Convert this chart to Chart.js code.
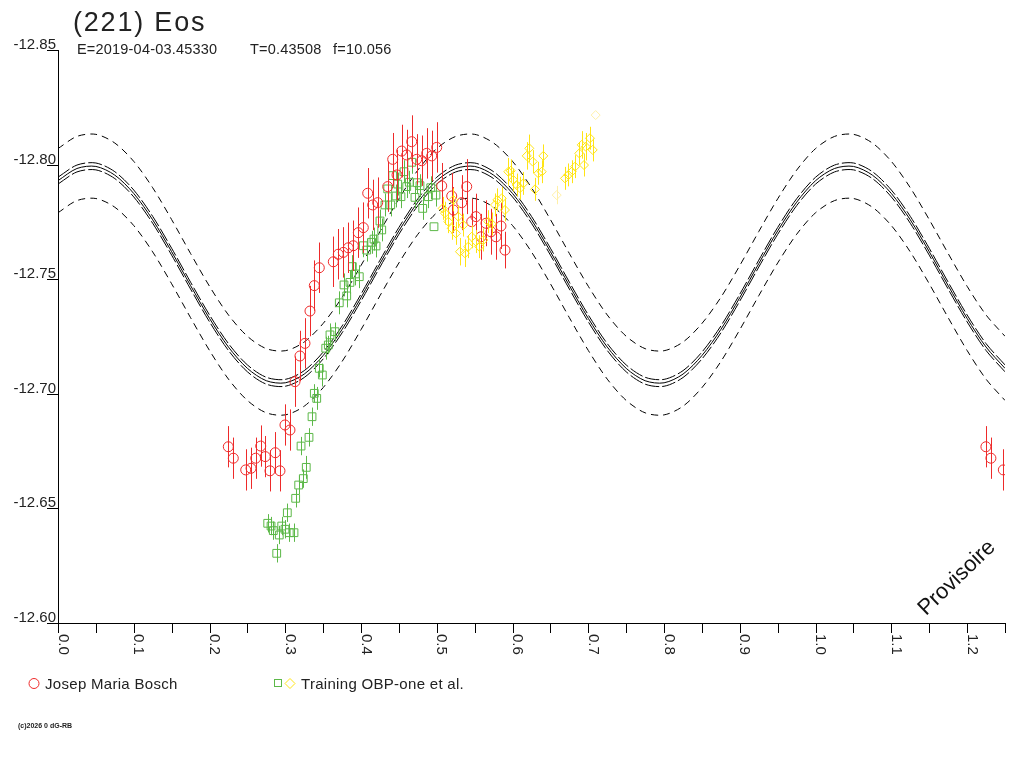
<!DOCTYPE html>
<html><head><meta charset="utf-8">
<script src="https://cdn.jsdelivr.net/npm/chart.js@4/dist/chart.umd.min.js"></script>
<style>html,body{margin:0;padding:0;background:#fff;overflow:hidden}canvas{display:block}</style>
</head><body>
<canvas id="c" width="1024" height="768"></canvas>
<script>
// ---- fitted light-curve ----
const fitPhase = [0,0.025,0.05,0.075,0.1,0.125,0.15,0.175,0.2,0.225,0.25,0.275,0.3,0.325,0.35,0.375,0.4,0.425,0.45,0.475,
0.5,0.525,0.55,0.575,0.6,0.625,0.65,0.675,0.7,0.725,0.75,0.775,0.8,0.825,0.85,0.875,0.9,0.925,0.95,0.975,
1.0,1.025,1.05,1.075,1.1,1.125,1.15,1.175,1.2,1.225,1.25];
const fitMag = [-12.7930,-12.7983,-12.7992,-12.7954,-12.7874,-12.7759,-12.7620,-12.7472,-12.7329,-12.7204,
-12.7111,-12.7057,-12.7048,-12.7086,-12.7167,-12.7281,-12.7420,-12.7568,-12.7711,-12.7836,
-12.7930,-12.7983,-12.7992,-12.7954,-12.7874,-12.7759,-12.7620,-12.7472,-12.7329,-12.7204,
-12.7111,-12.7057,-12.7048,-12.7086,-12.7167,-12.7281,-12.7420,-12.7568,-12.7711,-12.7836,
-12.7930,-12.7983,-12.7992,-12.7954,-12.7874,-12.7759,-12.7620,-12.7472,-12.7329,-12.7204,-12.7111];
const fitInnerUpper = [-12.7945,-12.7998,-12.8007,-12.7969,-12.7889,-12.7774,-12.7635,-12.7487,-12.7344,-12.7219,
-12.7126,-12.7072,-12.7063,-12.7101,-12.7182,-12.7296,-12.7435,-12.7583,-12.7726,-12.7851,
-12.7945,-12.7998,-12.8007,-12.7969,-12.7889,-12.7774,-12.7635,-12.7487,-12.7344,-12.7219,
-12.7126,-12.7072,-12.7063,-12.7101,-12.7182,-12.7296,-12.7435,-12.7583,-12.7726,-12.7851,
-12.7945,-12.7998,-12.8007,-12.7969,-12.7889,-12.7774,-12.7635,-12.7487,-12.7344,-12.7219,-12.7126];
const fitInnerLower = [-12.7915,-12.7968,-12.7977,-12.7939,-12.7859,-12.7744,-12.7605,-12.7457,-12.7314,-12.7189,
-12.7096,-12.7042,-12.7033,-12.7071,-12.7152,-12.7266,-12.7405,-12.7553,-12.7696,-12.7821,
-12.7915,-12.7968,-12.7977,-12.7939,-12.7859,-12.7744,-12.7605,-12.7457,-12.7314,-12.7189,
-12.7096,-12.7042,-12.7033,-12.7071,-12.7152,-12.7266,-12.7405,-12.7553,-12.7696,-12.7821,
-12.7915,-12.7968,-12.7977,-12.7939,-12.7859,-12.7744,-12.7605,-12.7457,-12.7314,-12.7189,-12.7096];
const fitOuterUpper = [-12.8070,-12.8123,-12.8132,-12.8094,-12.8014,-12.7899,-12.7760,-12.7612,-12.7469,-12.7344,
-12.7251,-12.7197,-12.7188,-12.7226,-12.7307,-12.7421,-12.7560,-12.7708,-12.7851,-12.7976,
-12.8070,-12.8123,-12.8132,-12.8094,-12.8014,-12.7899,-12.7760,-12.7612,-12.7469,-12.7344,
-12.7251,-12.7197,-12.7188,-12.7226,-12.7307,-12.7421,-12.7560,-12.7708,-12.7851,-12.7976,
-12.8070,-12.8123,-12.8132,-12.8094,-12.8014,-12.7899,-12.7760,-12.7612,-12.7469,-12.7344,-12.7251];
const fitOuterLower = [-12.7790,-12.7843,-12.7852,-12.7814,-12.7734,-12.7619,-12.7480,-12.7332,-12.7189,-12.7064,
-12.6971,-12.6917,-12.6908,-12.6946,-12.7027,-12.7141,-12.7280,-12.7428,-12.7571,-12.7696,
-12.7790,-12.7843,-12.7852,-12.7814,-12.7734,-12.7619,-12.7480,-12.7332,-12.7189,-12.7064,
-12.6971,-12.6917,-12.6908,-12.6946,-12.7027,-12.7141,-12.7280,-12.7428,-12.7571,-12.7696,
-12.7790,-12.7843,-12.7852,-12.7814,-12.7734,-12.7619,-12.7480,-12.7332,-12.7189,-12.7064,-12.6971];

// ---- Josep Maria Bosch (red circles) ----
const boschPhase = [0.2248,0.2314,0.2478,0.2548,0.2610,0.2676,0.2736,0.2798,0.2868,0.2930,0.2996,0.3062,
0.3128,0.3194,0.3260,0.3326,0.3383,0.3449,0.3634,0.3700,0.3766,0.3832,0.3898,0.3964,0.4030,
0.4088,0.4154,0.4220,0.4352,0.4418,0.4475,0.4537,0.4603,0.4669,0.4735,0.4801,0.4867,0.4933,0.4999,
0.5065,0.5197,0.5218,0.5329,0.5395,0.5461,0.5517,0.5583,0.5649,0.5715,0.5781,0.5847,0.5900,
1.2248,1.2314,1.2478];
const boschMag = [-12.6769,-12.6719,-12.6668,-12.6675,-12.6719,-12.6772,-12.6726,-12.6664,-12.6743,-12.6664,-12.6864,-12.6842,
-12.7053,-12.7165,-12.7220,-12.7361,-12.7472,-12.7550,-12.7576,-12.7609,-12.7617,-12.7637,-12.7646,-12.7703,-12.7725,
-12.7875,-12.7824,-12.7834,-12.7904,-12.8023,-12.7955,-12.8059,-12.8042,-12.8100,-12.8023,-12.8017,-12.8049,-12.8038,-12.8075,
-12.7907,-12.7863,-12.7802,-12.7834,-12.7904,-12.7751,-12.7773,-12.7685,-12.7744,-12.7707,-12.7685,-12.7732,-12.7627,
-12.6769,-12.6719,-12.6668];
const boschErr = [0.009,0.009,0.009,0.009,0.009,0.009,0.009,0.009,0.009,0.009,0.009,0.009,
0.011,0.011,0.011,0.011,0.011,0.011,0.011,0.011,0.011,0.011,0.011,0.011,0.011,
0.011,0.011,0.011,0.011,0.0115,0.011,0.0115,0.011,0.0115,0.011,0.011,0.011,0.011,0.011,
0.010,0.010,0.010,0.012,0.012,0.010,0.010,0.010,0.010,0.010,0.010,0.010,0.008,
0.009,0.009,0.009];

// ---- Training OBP-one et al. (green squares) ----
const greenPhase = [0.2768,0.2812,0.2842,0.2887,0.2921,0.2953,0.2996,0.3053,0.3115,0.3027,0.3137,0.3177,0.3238,0.3277,
0.3208,0.3313,0.3353,0.3415,0.3383,0.3489,0.3449,0.3534,0.3568,0.3590,0.3656,0.3713,0.3811,0.3775,0.3854,0.3924,
0.3977,0.3885,0.4030,0.4075,0.4141,0.4171,0.4198,0.4273,0.4250,0.4316,0.4392,0.4352,0.4418,0.4484,0.4462,0.4527,
0.4567,0.4603,0.4637,0.4669,0.4712,0.4743,0.4778,0.4814,0.4888,0.4920,0.4989,0.4963];
const greenMag = [-12.6435,-12.6423,-12.6403,-12.6304,-12.6384,-12.6423,-12.6409,-12.6394,-12.6394,-12.6481,-12.6544,-12.6602,-12.6630,-12.6679,
-12.6772,-12.6810,-12.6900,-12.6980,-12.7002,-12.7082,-12.7111,-12.7199,-12.7213,-12.7257,-12.7271,-12.7397,-12.7427,-12.7475,-12.7486,-12.7523,
-12.7511,-12.7555,-12.7646,-12.7627,-12.7661,-12.7675,-12.7645,-12.7715,-12.7754,-12.7824,-12.7824,-12.7894,-12.7952,-12.7915,-12.7863,-12.7860,
-12.7969,-12.7904,-12.7923,-12.8010,-12.7857,-12.7921,-12.7908,-12.7809,-12.7860,-12.7899,-12.7867,-12.7729];
const greenErr = [0.004,0.004,0.004,0.004,0.004,0.004,0.004,0.004,0.004,0.004,0.004,0.004,0.004,0.005,
0.004,0.004,0.004,0.005,0.004,0.005,0.004,0.005,0.004,0.005,0.004,0.005,0.005,0.005,0.005,0.005,
0.005,0.005,0.005,0.005,0.005,0.005,0.005,0.005,0.005,0.005,0.005,0.005,0.005,0.005,0.005,0.005,
0.005,0.005,0.005,0.005,0.005,0.005,0.005,0.005,0.005,0.005,0.005,0.000];

// ---- Training OBP-one et al. (yellow diamonds) ----
const yellowPhase = [0.5078,0.5108,0.5152,0.5197,0.5253,0.5306,0.5372,0.5416,0.5461,0.5517,0.5561,0.5614,0.5218,0.5284,
0.5350,0.5680,0.5725,0.5768,0.5799,0.5857,0.5900,0.5944,0.5976,0.6010,0.6055,0.6098,0.6142,0.6187,0.6221,0.6266,
0.6296,0.6340,0.6385,0.6406,0.6583,0.6692,0.6736,0.6781,0.6825,0.6881,0.6913,0.6966,0.7022,0.7058,0.6943,0.7097];
const yellowMag = [-12.7809,-12.7788,-12.7751,-12.7722,-12.7700,-12.7620,-12.7613,-12.7642,-12.7685,-12.7664,-12.7642,-12.7671,-12.7846,-12.7773,
-12.7736,-12.7751,-12.7741,-12.7824,-12.7846,-12.7853,-12.7802,-12.7969,-12.7973,-12.7933,-12.7911,-12.7897,-12.7918,-12.8038,-12.8071,-12.8013,
-12.7892,-12.7962,-12.7969,-12.8038,-12.7867,-12.7940,-12.7955,-12.7969,-12.7991,-12.8049,-12.8086,-12.8078,-12.8115,-12.8064,-12.7998,-12.8216];
const yellowErr = [0.005,0.005,0.005,0.005,0.005,0.006,0.006,0.005,0.005,0.005,0.005,0.005,0.005,0.005,
0.005,0.005,0.005,0.005,0.005,0.005,0.005,0.006,0.005,0.005,0.005,0.005,0.005,0.006,0.006,0.005,
0.005,0.005,0.005,0.005,0.004,0.005,0.005,0.005,0.005,0.005,0.006,0.006,0.005,0.005,0.005,0.000];

// ---- axes ----
const xTickValues = [0,0.05,0.1,0.15,0.2,0.25,0.3,0.35,0.4,0.45,0.5,0.55,0.6,0.65,0.7,0.75,0.8,0.85,0.9,0.95,1.0,1.05,1.1,1.15,1.2,1.25];
const xLabelValues = [0,0.1,0.2,0.3,0.4,0.5,0.6,0.7,0.8,0.9,1.0,1.1,1.2];
const xTickLabels = ['0.0','0.1','0.2','0.3','0.4','0.5','0.6','0.7','0.8','0.9','1.0','1.1','1.2'];
const yTickValues = [-12.85,-12.80,-12.75,-12.70,-12.65,-12.60];
const yTickLabels = ['-12.85','-12.80','-12.75','-12.70','-12.65','-12.60'];

const titleText = '(221) Eos';
const subTexts = ['E=2019-04-03.45330','T=0.43508','f=10.056'];
const legendLabels = ['Josep Maria Bosch','Training OBP-one et al.'];

// ---- styles ----
const RED = '#ee2a2a', GREEN = '#5cb848', YELLOW = '#ffe414', PALE = '#fff0a8';
const paleYellow = [34, 45];
const FONT = '"Liberation Sans", Arial, sans-serif';

const xy = (a, b) => a.map((v, i) => ({x: v, y: b[i]}));

function curve(data, dash) {
  return {type:'line', data, borderColor:'#000', borderWidth:1, borderDash:dash, pointRadius:0,
          tension:0.3, fill:false, order:10};
}

const decor = {
  id: 'decor',
  beforeDatasetDraw(chart, args) {
    const ds = chart.data.datasets[args.index];
    if (!ds.errs) return;
    const ctx = chart.ctx, xs = chart.scales.x, ys = chart.scales.y;
    ctx.save();
    ctx.lineWidth = 1;
    ds.data.forEach((p, i) => {
      const e = ds.errs[i];
      if (!e) return;
      const px = Math.round(xs.getPixelForValue(p.x)) + 0.5;
      ctx.strokeStyle = (ds.errColor && ds.errColor(i)) || ds.borderColor;
      ctx.beginPath();
      ctx.moveTo(px, ys.getPixelForValue(p.y - e));
      ctx.lineTo(px, ys.getPixelForValue(p.y + e));
      ctx.stroke();
    });
    ctx.restore();
  },
  afterDraw(chart) {
    const ctx = chart.ctx, xs = chart.scales.x, ys = chart.scales.y, a = chart.chartArea;
    ctx.save();
    ctx.strokeStyle = '#000'; ctx.lineWidth = 1; ctx.fillStyle = '#222';
    // y ticks
    ctx.font = '15px ' + FONT; ctx.textAlign = 'right'; ctx.textBaseline = 'alphabetic';
    yTickValues.forEach((v, i) => {
      const py = Math.round(ys.getPixelForValue(v)) + 0.5;
      ctx.beginPath(); ctx.moveTo(a.left - 11, py); ctx.lineTo(a.left, py); ctx.stroke();
      ctx.fillText(yTickLabels[i], a.left - 2, py - 1.5);
    });
    // x ticks
    xTickValues.forEach(v => {
      const px = Math.round(xs.getPixelForValue(v)) + 0.5;
      ctx.beginPath(); ctx.moveTo(px, a.bottom); ctx.lineTo(px, a.bottom + 10); ctx.stroke();
    });
    ctx.textAlign = 'left';
    xLabelValues.forEach((v, i) => {
      const px = xs.getPixelForValue(v);
      ctx.save(); ctx.translate(px + 0.5, a.bottom + 11); ctx.rotate(Math.PI / 2);
      ctx.fillText(xTickLabels[i], 0, 0); ctx.restore();
    });
    // title
    ctx.font = '27px ' + FONT; ctx.letterSpacing = '1.8px';
    ctx.fillText(titleText, 73, 31);
    ctx.font = '14.5px ' + FONT; ctx.letterSpacing = '0.2px';
    ctx.fillText(subTexts[0], 77, 54);
    ctx.fillText(subTexts[1], 250, 54);
    ctx.fillText(subTexts[2], 333, 54);
    // legend
    ctx.font = '15px ' + FONT; ctx.letterSpacing = '0.3px';
    ctx.fillText(legendLabels[0], 45, 689);
    ctx.fillText(legendLabels[1], 301, 689);
    ctx.letterSpacing = '0px';
    ctx.strokeStyle = RED; ctx.beginPath(); ctx.arc(34, 683.5, 5, 0, Math.PI * 2); ctx.stroke();
    ctx.strokeStyle = GREEN; ctx.strokeRect(274.5, 679.5, 7, 7);
    ctx.strokeStyle = YELLOW; ctx.beginPath();
    ctx.moveTo(285, 683.5); ctx.lineTo(290, 678.5); ctx.lineTo(295, 683.5); ctx.lineTo(290, 688.5); ctx.closePath(); ctx.stroke();
    // copyright
    ctx.font = 'bold 7px ' + FONT; ctx.fillStyle = '#222';
    ctx.fillText('(c)2026 0 dG-RB', 18, 728);
    // watermark
    ctx.save(); ctx.translate(957, 578); ctx.rotate(-44 * Math.PI / 180);
    ctx.font = '22px ' + FONT; ctx.textAlign = 'center'; ctx.textBaseline = 'middle'; ctx.fillStyle = '#111';
    ctx.fillText('Provisoire', 0, 0); ctx.restore();
    ctx.restore();
  }
};

new Chart(document.getElementById('c'), {
  type: 'line',
  data: {
    datasets: [
      {type:'line', label:legendLabels[0], data:xy(boschPhase, boschMag), errs:boschErr, showLine:false,
       pointStyle:'circle', pointRadius:5, pointBorderWidth:1, pointBorderColor:RED, borderColor:RED,
       pointBackgroundColor:'rgba(0,0,0,0)', order:1},
      {type:'line', label:legendLabels[1], data:xy(greenPhase, greenMag), errs:greenErr, showLine:false,
       pointStyle:'rect', pointRadius:5.5, pointBorderWidth:1, pointBorderColor:GREEN, borderColor:GREEN,
       pointBackgroundColor:'rgba(0,0,0,0)', order:2},
      {type:'line', label:legendLabels[1], data:xy(yellowPhase, yellowMag), errs:yellowErr, showLine:false,
       errColor: i => paleYellow.includes(i) ? PALE : YELLOW,
       pointStyle:'rectRot', pointRadius:4.5, pointBorderWidth:1,
       pointBorderColor: c => paleYellow.includes(c.dataIndex) ? PALE : YELLOW, borderColor:YELLOW,
       pointBackgroundColor:'rgba(0,0,0,0)', order:0},
      curve(xy(fitPhase, fitMag), []),
      curve(xy(fitPhase, fitInnerUpper), [14,3]),
      curve(xy(fitPhase, fitInnerLower), [14,3]),
      curve(xy(fitPhase, fitOuterUpper), [7,5]),
      curve(xy(fitPhase, fitOuterLower), [7,5])
    ]
  },
  options: {
    responsive: false, animation: false, devicePixelRatio: 1,
    layout: {padding: {left: 58, top: 50, right: 19, bottom: 145}},
    plugins: {legend: {display:false}, tooltip: {enabled:false}, title:{display:false}},
    events: [],
    scales: {
      x: {type:'linear', min:0, max:1.25, grid:{display:false, drawTicks:false, tickLength:0}, ticks:{display:false},
          border:{display:true, color:'#000', width:1}},
      y: {type:'linear', min:-12.85, max:-12.60, reverse:true, grid:{display:false, drawTicks:false, tickLength:0}, ticks:{display:false},
          border:{display:true, color:'#000', width:1}}
    }
  },
  plugins: [decor]
});
</script>
</body></html>
